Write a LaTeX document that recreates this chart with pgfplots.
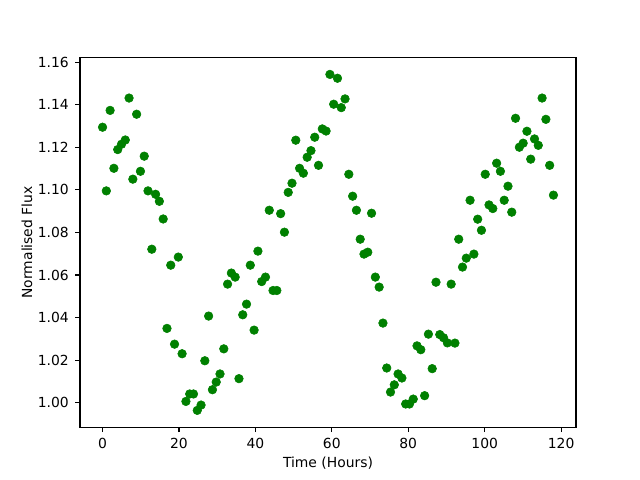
\documentclass[border=0pt]{standalone}
\usepackage{pgfplots}
\pgfplotsset{compat=1.18}
\usepackage{fontspec}
\setmainfont{DejaVu Sans}
\definecolor{mplgreen}{RGB}{0,128,0}
\begin{document}
\begin{tikzpicture}
\useasboundingbox (-57.6pt,-38.02pt) rectangle (403.2pt,307.58pt);
\begin{axis}[
  at={(0,0)}, anchor=south west,
  scale only axis,
  width=357.12pt, height=266.11pt,
  xmin=-5.9, xmax=123.9,
  ymin=0.9885, ymax=1.1621,
  xtick={0,20,40,60,80,100,120},
  ytick={1.00,1.02,1.04,1.06,1.08,1.10,1.12,1.14,1.16},
  yticklabel style={/pgf/number format/fixed, /pgf/number format/fixed zerofill, /pgf/number format/precision=2, xshift=-1pt},
  /pgf/number format/assume math mode=true,
  tick align=outside,
  tick pos=left,
  major tick length=3.5pt,
  every tick/.style={black, line width=0.8pt},
  axis line style={line width=0.8pt},
  tick label style={font=\fontsize{10}{12}\selectfont},
  label style={font=\fontsize{10}{12}\selectfont},
  xlabel={Time (Hours)},
  ylabel={Normalised Flux},
  x label style={at={(axis description cs:0.5,0)}, anchor=center, yshift=-25.8pt},
  y label style={at={(axis description cs:0,0.5)}, anchor=center, yshift=38.2pt},
  xticklabel style={yshift=-1pt},
]
\addplot[only marks, mark=*, mark size=3.1pt, color=mplgreen, mark options={fill=mplgreen, draw=mplgreen}] table[row sep=\\] {
x y \\
0.00 1.1294 \\
0.99 1.0995 \\
1.98 1.1373 \\
2.97 1.1101 \\
3.97 1.1189 \\
4.96 1.1214 \\
5.95 1.1234 \\
6.94 1.1431 \\
7.93 1.1050 \\
8.92 1.1355 \\
9.92 1.1087 \\
10.91 1.1158 \\
11.90 1.0995 \\
12.89 1.0721 \\
13.88 1.0979 \\
14.87 1.0946 \\
15.87 1.0863 \\
16.86 1.0349 \\
17.85 1.0646 \\
18.84 1.0275 \\
19.83 1.0684 \\
20.82 1.0230 \\
21.82 1.0006 \\
22.81 1.0041 \\
23.80 1.0041 \\
24.79 0.9964 \\
25.78 0.9989 \\
26.77 1.0197 \\
27.76 1.0407 \\
28.76 1.0061 \\
29.75 1.0097 \\
30.74 1.0135 \\
31.73 1.0253 \\
32.72 1.0557 \\
33.71 1.0609 \\
34.71 1.0590 \\
35.70 1.0113 \\
36.69 1.0413 \\
37.68 1.0463 \\
38.67 1.0646 \\
39.66 1.0341 \\
40.66 1.0712 \\
41.65 1.0569 \\
42.64 1.0590 \\
43.63 1.0904 \\
44.62 1.0527 \\
45.61 1.0527 \\
46.61 1.0888 \\
47.60 1.0801 \\
48.59 1.0988 \\
49.58 1.1031 \\
50.57 1.1233 \\
51.56 1.1101 \\
52.55 1.1078 \\
53.55 1.1153 \\
54.54 1.1184 \\
55.53 1.1247 \\
56.52 1.1115 \\
57.51 1.1286 \\
58.50 1.1276 \\
59.50 1.1542 \\
60.49 1.1402 \\
61.48 1.1524 \\
62.47 1.1386 \\
63.46 1.1427 \\
64.45 1.1073 \\
65.45 1.0970 \\
66.44 1.0904 \\
67.43 1.0768 \\
68.42 1.0698 \\
69.41 1.0707 \\
70.40 1.0890 \\
71.39 1.0590 \\
72.39 1.0543 \\
73.38 1.0374 \\
74.37 1.0163 \\
75.36 1.0050 \\
76.35 1.0084 \\
77.34 1.0135 \\
78.34 1.0116 \\
79.33 0.9994 \\
80.32 0.9994 \\
81.31 1.0017 \\
82.30 1.0267 \\
83.29 1.0249 \\
84.29 1.0033 \\
85.28 1.0322 \\
86.27 1.0160 \\
87.26 1.0566 \\
88.25 1.0320 \\
89.24 1.0305 \\
90.24 1.0281 \\
91.23 1.0557 \\
92.22 1.0280 \\
93.21 1.0768 \\
94.20 1.0637 \\
95.19 1.0679 \\
96.18 1.0951 \\
97.18 1.0698 \\
98.17 1.0862 \\
99.16 1.0810 \\
100.15 1.1073 \\
101.14 1.0929 \\
102.13 1.0912 \\
103.13 1.1125 \\
104.12 1.1087 \\
105.11 1.0951 \\
106.10 1.1017 \\
107.09 1.0895 \\
108.08 1.1336 \\
109.08 1.1200 \\
110.07 1.1219 \\
111.06 1.1275 \\
112.05 1.1144 \\
113.04 1.1239 \\
114.03 1.1209 \\
115.03 1.1431 \\
116.02 1.1331 \\
117.01 1.1115 \\
118.00 1.0975 \\
};
\end{axis}
\end{tikzpicture}
\end{document}
